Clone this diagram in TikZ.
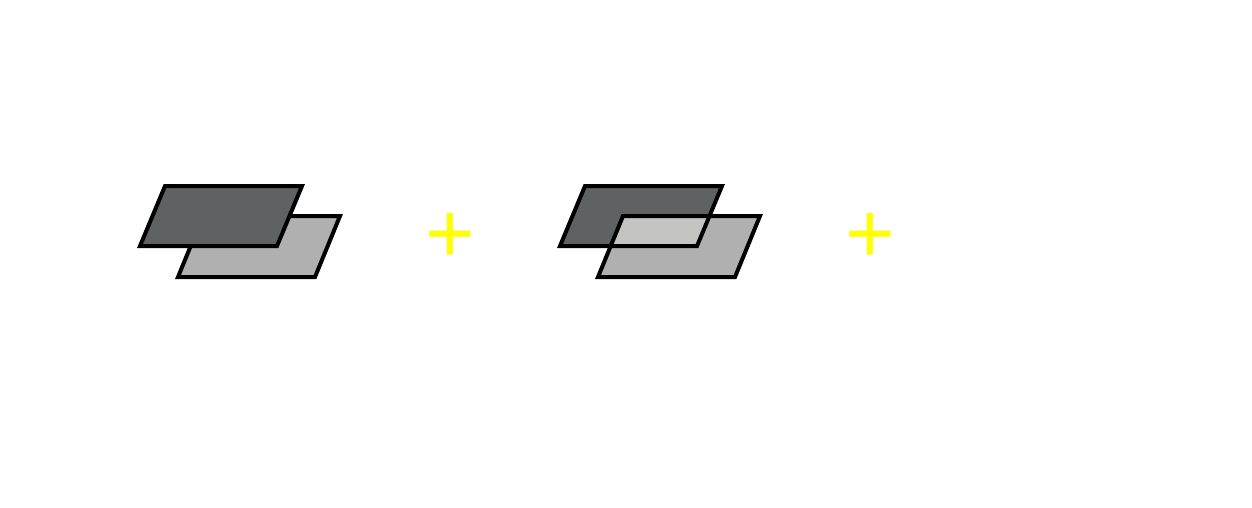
\documentclass[tikz,border=0pt]{standalone}
\usepackage{fontspec}
\setmainfont{Liberation Sans}
\definecolor{darkpl}{HTML}{5E6262}
\definecolor{lightpl}{HTML}{B0B0B0}
\definecolor{interpl}{HTML}{C4C5C0}
\definecolor{plusy}{HTML}{FFFF00}
\tikzset{
  plane/.style={draw=black,line width=4pt,line join=miter},
  plussign/.style={text=plusy,inner sep=0pt,anchor=base,font=\fontsize{85}{85}\selectfont}
}
\begin{document}
\begin{tikzpicture}[x=1pt,y=-1pt]
\useasboundingbox (0,0) rectangle (1252,508);
% first pair
\def\dk#1{(165+#1,186) -- (302+#1,186) -- (277+#1,246) -- (140+#1,246) -- cycle}
\def\lt#1{(203+#1,216) -- (340+#1,216) -- (315+#1,277) -- (178+#1,277) -- cycle}
\filldraw[plane,fill=lightpl] \lt{0};
\filldraw[plane,fill=darkpl] \dk{0};
% second pair
\fill[darkpl] \dk{420};
\fill[lightpl] \lt{420};
\begin{scope}
\clip \dk{420};
\fill[interpl] \lt{420};
\end{scope}
\draw[plane] \dk{420};
\draw[plane] \lt{420};
% plus signs
\node[plussign] (p1) at (450,262) {+};
\node[plussign] (p2) at (870,262) {+};
\end{tikzpicture}
\end{document}
